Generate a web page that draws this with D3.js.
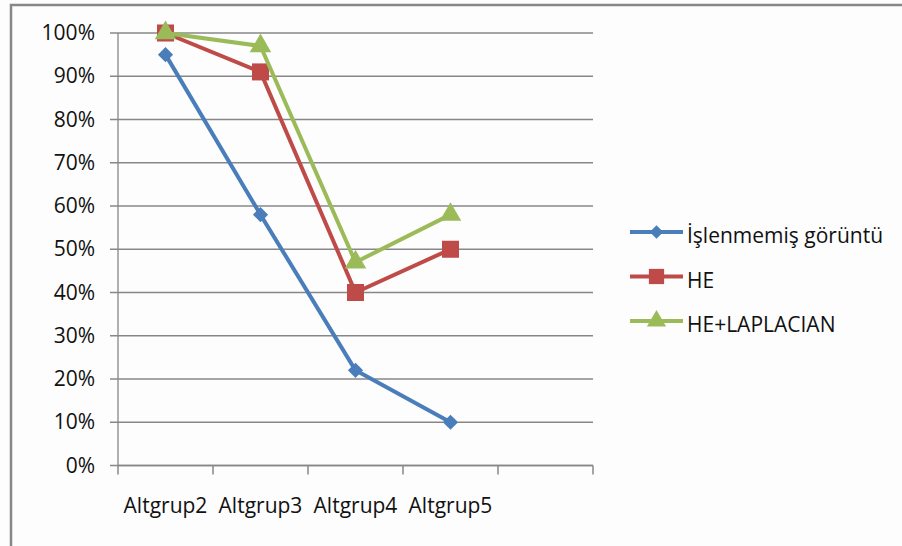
<!DOCTYPE html>
<html>
<head>
<meta charset="utf-8">
<script src="https://cdn.jsdelivr.net/npm/d3@7"></script>
<style>
  body { margin: 0; background: #fdfdfd; }
  text { font-family: "Open Sans", sans-serif; fill: #111; }
</style>
</head>
<body>
<div class="canvas"></div>
<script>
// data
const categories = ["Altgrup2", "Altgrup3", "Altgrup4", "Altgrup5"]
const slots = [...categories, ""] // fifth empty slot on the axis
const yTicks = [0, 0.1, 0.2, 0.3, 0.4, 0.5, 0.6, 0.7, 0.8, 0.9, 1]
const seriesNames = ["İşlenmemiş görüntü", "HE", "HE+LAPLACIAN"]
const raw = [0.95, 0.58, 0.22, 0.10]
const he = [1.00, 0.91, 0.40, 0.50]
const heLap = [1.00, 0.97, 0.47, 0.58]

const colors = ["#4a7ebb", "#be4b48", "#9bbb59"]
const shapes = [d3.symbolSquare, d3.symbolSquare, d3.symbolTriangle]
const sizes = [115, 290, 200]
const rotations = [45, 0, 0]

const width = 902, height = 546
const margin = {top: 33, left: 118, right: 309, bottom: 80.5}
const graphWidth = width - margin.left - margin.right
const graphHeight = height - margin.top - margin.bottom

const svg = d3.select(".canvas").append("svg")
    .attr("width", width)
    .attr("height", height)

// outer frame (top + left edges visible)
svg.append("path")
    .attr("d", "M11,546 V5 H902")
    .attr("fill", "none")
    .attr("stroke", "#888")
    .attr("stroke-width", 2.5)

const graph = svg.append("g")
    .attr("transform", `translate(${margin.left},${margin.top})`)

const x = d3.scaleBand().domain(slots).range([0, graphWidth])
const y = d3.scaleLinear().domain([0, 1]).range([graphHeight, 0])

// gridlines
graph.append("g")
    .selectAll("line")
    .data(yTicks)
    .join("line")
        .attr("x1", -8)
        .attr("x2", graphWidth)
        .attr("y1", d => y(d))
        .attr("y2", d => y(d))
        .attr("stroke", "#878787")
        .attr("stroke-width", 1.3)

// y axis
const yAxis = d3.axisLeft(y).tickValues(yTicks).tickSize(0).tickPadding(23)
    .tickFormat(d3.format(".0%"))
const yAxisGroup = graph.append("g").call(yAxis)
yAxisGroup.select(".domain").remove()
yAxisGroup.selectAll("text")
    .style("font-size", "21px")
    .style("font-family", "'Open Sans', sans-serif")
    .attr("fill", "#111")
graph.append("line")
    .attr("x1", 0).attr("x2", 0).attr("y1", 0).attr("y2", graphHeight)
    .attr("stroke", "#878787").attr("stroke-width", 1.3)

// x axis
const xAxisGroup = graph.append("g").attr("transform", `translate(0,${graphHeight})`)
xAxisGroup.append("line")
    .attr("x1", 0).attr("x2", graphWidth)
    .attr("stroke", "#878787").attr("stroke-width", 1.5)
xAxisGroup.selectAll(".tick")
    .data(d3.range(slots.length + 1))
    .join("line")
        .attr("x1", i => i * x.step())
        .attr("x2", i => i * x.step())
        .attr("y1", 0).attr("y2", 9)
        .attr("stroke", "#878787").attr("stroke-width", 1.5)
xAxisGroup.selectAll("text")
    .data(categories)
    .join("text")
        .attr("x", d => x(d) + x.bandwidth() / 2)
        .attr("y", 47.5)
        .attr("text-anchor", "middle")
        .style("font-size", "21px")
        .text(d => d)

// series
const line = d3.line()
    .x((d, i) => x(categories[i]) + x.bandwidth() / 2)
    .y(d => y(d))

;[raw, he, heLap].forEach((vals, s) => {
    graph.append("path")
        .attr("d", line(vals))
        .attr("fill", "none")
        .attr("stroke", colors[s])
        .attr("stroke-width", 4)
        .attr("stroke-linejoin", "round")
    graph.selectAll(null)
        .data(vals)
        .join("path")
            .attr("transform", (d, i) => `translate(${x(categories[i]) + x.bandwidth() / 2},${y(d)}) rotate(${rotations[s]})`)
            .attr("d", d3.symbol().type(shapes[s]).size(sizes[s]))
            .attr("fill", colors[s])
})

// legend
const legend = svg.append("g").attr("transform", "translate(630,232)")
seriesNames.forEach((name, s) => {
    const row = legend.append("g").attr("transform", `translate(0,${s * 44.5})`)
    row.append("line")
        .attr("x1", 0).attr("x2", 53)
        .attr("stroke", colors[s]).attr("stroke-width", 4)
    row.append("path")
        .attr("transform", `translate(26.5,0) rotate(${rotations[s]})`)
        .attr("d", d3.symbol().type(shapes[s]).size(sizes[s] * 0.8))
        .attr("fill", colors[s])
    row.append("text")
        .attr("x", 57)
        .attr("dy", 11)
        .style("font-size", "21px")
        .text(name)
})
</script>
</body>
</html>
